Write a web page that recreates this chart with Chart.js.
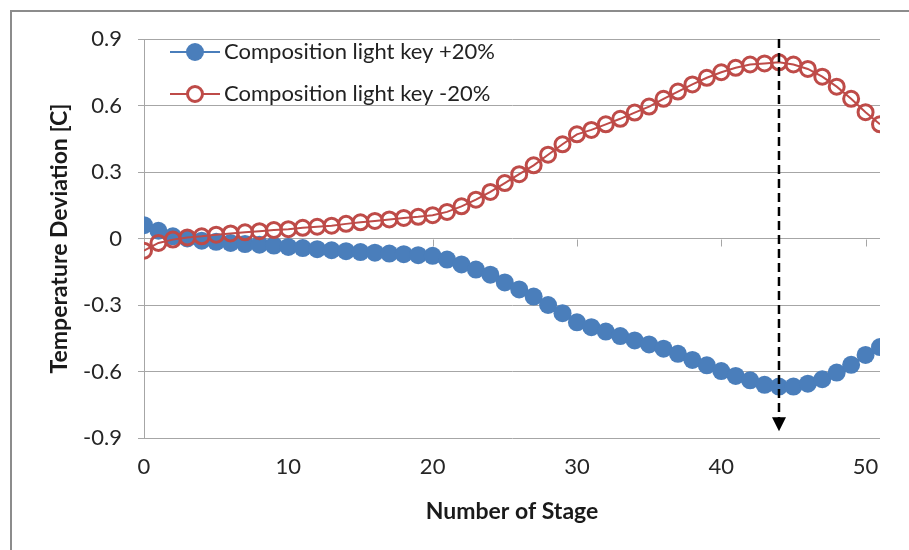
<!DOCTYPE html>
<html>
<head>
<meta charset="utf-8">
<script src="https://cdn.jsdelivr.net/npm/chart.js@4.4.1/dist/chart.umd.min.js"></script>
<style>
  html, body { margin: 0; padding: 0; background: #fff; overflow: hidden; }
  #wrap { position: relative; width: 909px; height: 550px; }
  #frame { position: absolute; left: 10px; top: 10px; width: 1000px; height: 1000px;
           border: 2px solid #8c8c8c; box-sizing: border-box; }
  canvas { position: absolute; left: 0; top: 0; }
</style>
</head>
<body>
<div id="wrap">
  <div id="frame"></div>
  <canvas id="chart" width="909" height="550"></canvas>
</div>
<script>
// stage numbers (x)
const stages = [0, 1, 2, 3, 4, 5, 6, 7, 8, 9, 10, 11, 12, 13, 14, 15, 16, 17, 18, 19, 20,
  21, 22, 23, 24, 25, 26, 27, 28, 29, 30, 31, 32, 33, 34, 35, 36, 37, 38, 39, 40,
  41, 42, 43, 44, 45, 46, 47, 48, 49, 50, 51];

// Composition light key +20%
const plus20 = [0.06, 0.035, 0.01, 0.0, -0.01, -0.015, -0.02, -0.025, -0.028, -0.032,
  -0.038, -0.043, -0.048, -0.053, -0.057, -0.061, -0.064, -0.068, -0.071, -0.075,
  -0.078, -0.095, -0.117, -0.14, -0.163, -0.198, -0.23, -0.262, -0.3, -0.337,
  -0.378, -0.4, -0.42, -0.44, -0.46, -0.478, -0.497, -0.52, -0.548, -0.572,
  -0.598, -0.62, -0.64, -0.66, -0.668, -0.668, -0.655, -0.635, -0.605, -0.57,
  -0.525, -0.49];

// Composition light key -20%
const minus20 = [-0.055, -0.02, -0.005, 0.005, 0.01, 0.017, 0.023, 0.028, 0.033, 0.038,
  0.042, 0.048, 0.053, 0.058, 0.066, 0.073, 0.079, 0.086, 0.093, 0.098,
  0.105, 0.12, 0.145, 0.175, 0.21, 0.25, 0.29, 0.33, 0.378, 0.425,
  0.47, 0.49, 0.515, 0.54, 0.568, 0.595, 0.63, 0.663, 0.695, 0.725,
  0.75, 0.77, 0.785, 0.79, 0.795, 0.785, 0.765, 0.73, 0.685, 0.63,
  0.57, 0.515];

const seriesNames = ['Composition light key +20%', 'Composition light key -20%'];
const xTicks = [0, 10, 20, 30, 40, 50];
const yTicks = [-0.9, -0.6, -0.3, 0, 0.3, 0.6, 0.9];
const yTickLabels = ['-0.9', '-0.6', '-0.3', '0', '0.3', '0.6', '0.9'];
// dashed arrow marking the extreme stage
const arrowStage = 44;
const arrowFrom = 0.9;
const arrowTo = -0.87;

const BLUE = '#4a7ebb';
const RED = '#be4b48';
const GRID = '#a6a6a6';
const FONT = 'Lato';

function pts(ys) { return stages.map((s, i) => ({ x: s, y: ys[i] })); }

// little tick marks on the zero line
const zeroTicks = {
  id: 'zeroTicks',
  beforeDatasetsDraw(chart) {
    const { ctx, scales: { x, y } } = chart;
    const y0 = Math.round(y.getPixelForValue(0)) + 0.5;
    ctx.save();
    ctx.strokeStyle = GRID;
    ctx.lineWidth = 1;
    xTicks.forEach(v => {
      if (v === 0) return;
      const px = Math.round(x.getPixelForValue(v)) + 0.5;
      ctx.beginPath();
      ctx.moveTo(px, y0);
      ctx.lineTo(px, y0 + 7);
      ctx.stroke();
    });
    ctx.restore();
  }
};

const arrow = {
  id: 'arrow',
  afterDatasetsDraw(chart) {
    const { ctx, scales: { x, y } } = chart;
    const px = x.getPixelForValue(arrowStage);
    const top = y.getPixelForValue(arrowFrom);
    const tip = y.getPixelForValue(arrowTo);
    ctx.save();
    ctx.strokeStyle = '#000';
    ctx.lineWidth = 2.5;
    ctx.setLineDash([9, 5]);
    ctx.beginPath();
    ctx.moveTo(px, top);
    ctx.lineTo(px, tip - 12);
    ctx.stroke();
    ctx.setLineDash([]);
    ctx.fillStyle = '#000';
    ctx.beginPath();
    ctx.moveTo(px - 7, tip - 14);
    ctx.lineTo(px + 7, tip - 14);
    ctx.lineTo(px, tip);
    ctx.closePath();
    ctx.fill();
    ctx.restore();
  }
};

const insideLegend = {
  id: 'insideLegend',
  afterDraw(chart) {
    const { ctx, chartArea } = chart;
    const x0 = chartArea.left + 26;
    const rows = [chartArea.top + 13, chartArea.top + 55];
    ctx.save();
    chart.data.datasets.forEach((ds, i) => {
      const cy = rows[i];
      ctx.strokeStyle = ds.borderColor;
      ctx.lineWidth = 2;
      ctx.beginPath();
      ctx.moveTo(x0, cy);
      ctx.lineTo(x0 + 50, cy);
      ctx.stroke();
      ctx.beginPath();
      ctx.arc(x0 + 25, cy, ds.pointRadius, 0, Math.PI * 2);
      if (ds.pointBackgroundColor === 'transparent') {
        ctx.fillStyle = '#fff';
        ctx.fill();
        ctx.lineWidth = ds.pointBorderWidth;
        ctx.strokeStyle = ds.pointBorderColor;
        ctx.stroke();
      } else {
        ctx.fillStyle = ds.pointBackgroundColor;
        ctx.fill();
      }
      ctx.fillStyle = '#222';
      ctx.font = '22px ' + FONT;
      ctx.textBaseline = 'middle';
      ctx.fillText(seriesNames[i], x0 + 54, cy);
    });
    ctx.restore();
  }
};

new Chart(document.getElementById('chart'), {
  type: 'line',
  data: {
    datasets: [
      {
        label: seriesNames[0],
        data: pts(plus20),
        borderColor: BLUE,
        borderWidth: 2,
        pointRadius: 9,
        pointBackgroundColor: BLUE,
        pointBorderColor: BLUE,
        pointBorderWidth: 0,
        order: 1
      },
      {
        label: seriesNames[1],
        data: pts(minus20),
        borderColor: RED,
        borderWidth: 2,
        pointRadius: 7.5,
        pointBackgroundColor: 'transparent',
        pointBorderColor: RED,
        pointBorderWidth: 3,
        order: 0
      }
    ]
  },
  options: {
    responsive: false,
    animation: false,
    devicePixelRatio: 1,
    layout: { padding: { left: 0, top: 39, right: 29, bottom: 0 } },
    plugins: { legend: { display: false }, tooltip: { enabled: false } },
    scales: {
      x: {
        type: 'linear',
        min: 0,
        max: 51,
        afterBuildTicks: s => { s.ticks = xTicks.map(v => ({ value: v })); },
        afterFit: s => { s.height = 112; },
        grid: { display: false, drawTicks: false },
        border: { display: false },
        ticks: { color: '#262626', font: { family: FONT, size: 22 }, padding: 16, maxRotation: 0 },
        title: {
          display: true,
          text: 'Number of Stage',
          color: '#1a1a1a',
          font: { family: FONT, size: 23, weight: 'bold' },
          padding: { top: 0, bottom: 25 }
        }
      },
      y: {
        min: -0.9,
        max: 0.9,
        afterBuildTicks: s => { s.ticks = yTicks.map(v => ({ value: v })); },
        afterFit: s => { s.width = 144; },
        grid: { color: GRID, lineWidth: 1, tickLength: 6, drawTicks: true },
        border: { display: true, color: GRID, width: 1 },
        ticks: {
          color: '#262626',
          font: { family: FONT, size: 22 },
          padding: 16,
          callback: v => yTickLabels[yTicks.findIndex(t => Math.abs(t - v) < 1e-9)]
        },
        title: {
          display: true,
          text: 'Temperature Deviation [C]',
          color: '#1a1a1a',
          font: { family: FONT, size: 23, weight: 'bold' },
          padding: { top: 46, bottom: 0 }
        }
      }
    }
  },
  plugins: [zeroTicks, arrow, insideLegend]
});
</script>
</body>
</html>
